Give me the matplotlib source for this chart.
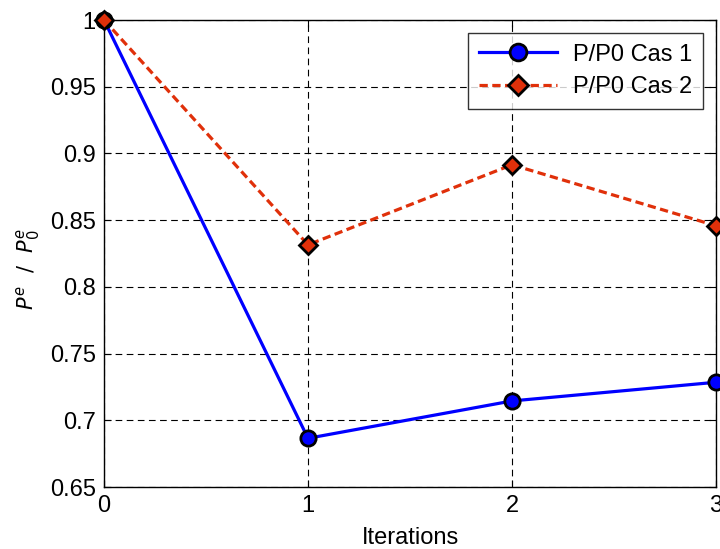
import matplotlib
matplotlib.use("Agg")
import matplotlib.pyplot as plt

iterations = [0, 1, 2, 3]
cas1 = [1.0, 0.6865, 0.7145, 0.7285]
cas2 = [1.0, 0.8315, 0.8915, 0.8458]
xticks = [0, 1, 2, 3]
yticks = [0.65, 0.7, 0.75, 0.8, 0.85, 0.9, 0.95, 1.0]
ytick_labels = ["0.65", "0.7", "0.75", "0.8", "0.85", "0.9", "0.95", "1"]

plt.rcParams['font.family'] = ['Liberation Sans', 'DejaVu Sans']

fig = plt.figure(figsize=(7.2, 5.49), dpi=100)
ax = fig.add_axes([104/720, 62/549, 612/720, 467/549])

red = '#E0300A'
ax.plot(iterations, cas1, '-', color='#0000FF', lw=2.3, marker='o', ms=11,
        mfc='#0000FF', mec='black', mew=2, label='P/P0 Cas 1', clip_on=False, zorder=4)
ax.plot(iterations, cas2, '--', color=red, lw=2.3, marker='D', ms=9.5,
        mfc=red, mec='black', mew=2, label='P/P0 Cas 2', clip_on=False, zorder=4,
        dashes=(2.6, 1.4))

ax.set_xlim(0, 3)
ax.set_ylim(0.65, 1.0)
ax.set_xticks(xticks)
ax.set_yticks(yticks)
ax.set_yticklabels(ytick_labels)
ax.tick_params(direction='in', top=True, right=True, labelsize=17, length=5, width=0.8, pad=6)
ax.grid(True, color='black', linestyle=(0, (6, 4)), linewidth=0.8)
for s in ax.spines.values():
    s.set_linewidth(1.0)

ax.set_xlabel('Iterations', fontsize=17, labelpad=7)
fig.text(28/720, 1 - 269/549, r'$P^e\ \ /\ \ P^e_0$', fontsize=15, rotation=90,
         ha='center', va='center')

leg = ax.legend(loc='upper right', fontsize=17, handlelength=3.3, frameon=True,
                fancybox=False, borderaxespad=0.55, handletextpad=0.7, borderpad=0.45,
                labelspacing=0.45, markerscale=1.1)
leg.get_frame().set_edgecolor('black')
leg.get_frame().set_linewidth(1.0)

fig.savefig('out.png', dpi=100)
